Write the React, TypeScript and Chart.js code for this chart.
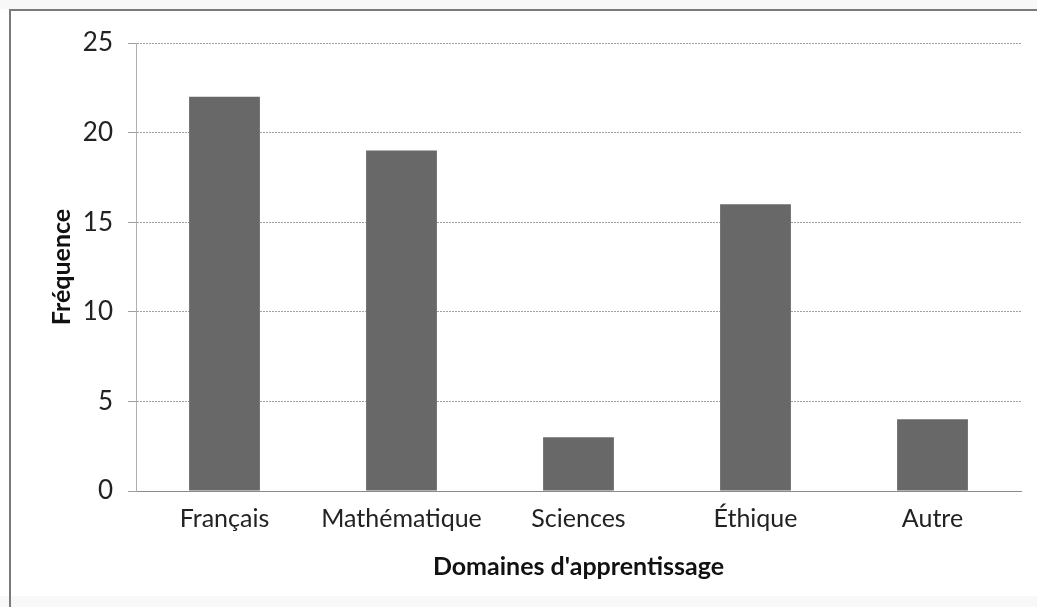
import React, { useEffect, useRef } from "react";
import { Chart, registerables } from "chart.js";

Chart.register(...registerables);

const categories = ["Français", "Mathématique", "Sciences", "Éthique", "Autre"];
const frequencies = [22, 19, 3, 16, 4];
const yTicks = [0, 5, 10, 15, 20, 25];
const yTitle = "Fréquence";
const xTitle = "Domaines d'apprentissage";

export default function App() {
  const ref = useRef<HTMLCanvasElement | null>(null);

  useEffect(() => {
    document.body.style.margin = "0";
    const canvas = ref.current;
    if (!canvas) return;
    const chart = new Chart(canvas, {
      type: "bar",
      data: {
        labels: categories,
        datasets: [
          {
            data: frequencies,
            backgroundColor: "#686868",
            borderWidth: 0,
            barPercentage: 0.4,
            categoryPercentage: 1,
          },
        ],
      },
      options: {
        responsive: false,
        animation: false,
        devicePixelRatio: 1,
        layout: { padding: { top: 43, right: 16, left: 0, bottom: 0 } },
        plugins: { legend: { display: false }, tooltip: { enabled: false } },
        scales: {
          x: {
            grid: { display: false, drawTicks: false },
            border: { display: true, color: "#8a8a8a", width: 1 },
            ticks: {
              color: "#222",
              padding: 13,
              font: { family: "Lato", size: 25 },
              maxRotation: 0,
            },
            title: {
              display: true,
              text: xTitle,
              color: "#111",
              font: { family: "Lato", size: 25, weight: "bold" },
              padding: { top: 0, bottom: 25 },
            },
            afterFit: (s: any) => {
              s.height = 116;
            },
          },
          y: {
            min: 0,
            max: 25,
            afterBuildTicks: (s: any) => {
              s.ticks = yTicks.map((v) => ({ value: v }));
            },
            grid: { color: "#a0a0a0", lineWidth: 1, tickLength: 8, drawTicks: true },
            border: { display: true, color: "#b0b0b0", width: 1, dash: [2, 1] },
            ticks: {
              color: "#222",
              padding: 15,
              font: { family: "Lato", size: 26 },
            },
            title: {
              display: true,
              text: yTitle,
              color: "#111",
              font: { family: "Lato", size: 25, weight: "bold" },
              padding: { top: 47, bottom: 0 },
            },
            afterFit: (s: any) => {
              s.width = 136;
            },
          },
        },
      },
    });
    return () => chart.destroy();
  }, []);

  return (
    <div style={{ position: "relative", width: 1037, height: 607, background: "#ffffff", overflow: "hidden" }}>
      <div style={{ position: "absolute", left: 0, top: 0, width: 1037, height: 9, background: "#f8f8f8" }} />
      <div style={{ position: "absolute", left: 0, top: 596, width: 1037, height: 11, background: "#f8f8f8" }} />
      <canvas ref={ref} width={1037} height={607} style={{ position: "absolute", left: 0, top: 0 }} />
      <div
        style={{
          position: "absolute",
          left: 9,
          top: 9,
          width: 1040,
          height: 610,
          borderLeft: "2px solid #7a7a7a",
          borderTop: "2px solid #7a7a7a",
          boxSizing: "border-box",
          pointerEvents: "none",
        }}
      />
    </div>
  );
}
